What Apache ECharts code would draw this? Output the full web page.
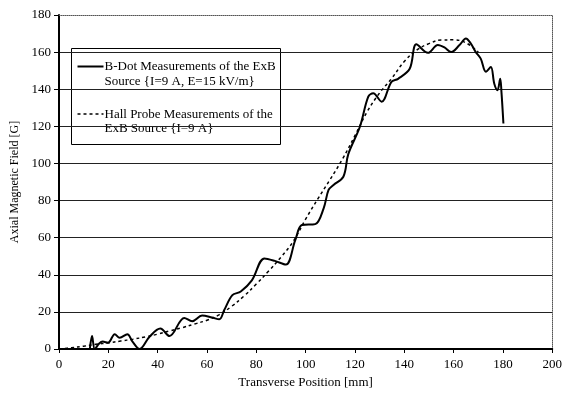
<!DOCTYPE html>
<html>
<head>
<meta charset="utf-8">
<script src="https://cdn.jsdelivr.net/npm/echarts@6/dist/echarts.min.js"></script>
<style>
  html, body { margin: 0; padding: 0; background: #fff; }
  #chart { width: 565px; height: 398px; }
</style>
</head>
<body>
<div id="chart"></div>
<script>
// B-Dot measurements [mm, G]
var bdotPos = [12.5, 13.4, 14.5, 16.3, 17.7, 19.9, 22.6, 24.6, 27.7, 29.8, 32.7, 36.7, 41.1, 44.8, 50.8, 54, 58, 62, 65, 67, 70.3, 73.7, 78.2, 83.3, 87.5, 92, 95.8, 98.5, 103.9, 107.3, 109.3, 111.3, 115.3, 117.3, 122, 125.4, 127.4, 130.8, 134.8, 137.5, 142.2, 144.9, 149.6, 153.6, 156.3, 159, 162.4, 165, 167, 169, 171, 173.1, 175.1, 176.5, 177.8, 178.9, 179.4, 180.2];
var bdotField = [0, 7, 0, 3, 4, 3.4, 8, 6, 8, 4, 0, 6.6, 11, 7, 16.7, 15, 18, 17, 16, 21, 29, 31, 37, 48.8, 47.5, 45.5, 58.7, 66.8, 67.3, 75.8, 85.7, 88.4, 92.8, 105, 119.8, 136, 137.8, 133.3, 144, 145.6, 151, 164.2, 159.6, 163.8, 162.5, 160, 163.8, 167.4, 164.6, 160, 156.5, 149.4, 152, 143, 139.5, 145.6, 138.6, 121.5];

// Hall probe measurements [mm, G]
var hallPos = [0, 5, 10, 15, 20, 25, 30, 35, 40, 45, 50, 55, 60, 65, 70, 75, 80, 85, 90, 95, 100, 105, 110, 115, 120, 125, 130, 135, 140, 145, 150, 155, 160, 165, 170];
var hallField = [0, 0.7, 1.5, 2.5, 3.3, 4.3, 5.3, 6.5, 8, 9.8, 11.5, 13.5, 15.5, 18.5, 23, 28.5, 35, 42, 49.5, 58, 70, 81, 91.5, 102.5, 115, 128, 138, 146, 155, 161, 164.6, 166.5, 166.6, 165, 160];

var legendLines = [
  'B-Dot Measurements of the ExB\nSource {I=9 A, E=15 kV/m}',
  'Hall Probe Measurements of the\nExB Source {I=9 A}'
];

function pairs(xs, ys) {
  return xs.map(function (x, i) { return [x, ys[i]]; });
}

var font = 'Liberation Serif';
var chart = echarts.init(document.getElementById('chart'));

chart.setOption({
  animation: false,
  backgroundColor: '#fff',
  textStyle: { fontFamily: font, color: '#000' },
  grid: { left: 59, right: 10, top: 15, bottom: 49 },
  xAxis: [{
    type: 'value',
    min: 0, max: 200, interval: 20,
    name: 'Transverse Position [mm]',
    nameLocation: 'middle',
    nameGap: 27,
    nameTextStyle: { fontFamily: font, fontSize: 13, color: '#000' },
    axisLine: { lineStyle: { color: '#000', width: 2 } },
    axisTick: { length: 4, lineStyle: { color: '#000' } },
    axisLabel: { fontFamily: font, fontSize: 13, color: '#000', margin: 9 },
    splitLine: { show: false }
  }, {
    type: 'value', position: 'top',
    min: 0, max: 200,
    axisLine: { show: true, onZero: false, lineStyle: { color: '#555', type: [1, 1] } },
    axisTick: { show: false }, axisLabel: { show: false }, splitLine: { show: false }
  }],
  yAxis: [{
    type: 'value',
    min: 0, max: 180, interval: 20,
    name: 'Axial Magnetic Field [G]',
    nameLocation: 'middle',
    nameGap: 34,
    nameTextStyle: { fontFamily: font, fontSize: 12, color: '#000' },
    axisLine: { show: true, lineStyle: { color: '#000', width: 2 } },
    axisTick: { show: true, length: 5, lineStyle: { color: '#000' } },
    axisLabel: { fontFamily: font, fontSize: 13, color: '#000', margin: 8 },
    splitLine: { show: true, showMinLine: false, showMaxLine: false, lineStyle: { color: '#222', width: 1 } }
  }, {
    type: 'value', position: 'right',
    min: 0, max: 180,
    axisLine: { show: true, onZero: false, lineStyle: { color: '#555', type: [1, 1] } },
    axisTick: { show: false }, axisLabel: { show: false }, splitLine: { show: false }
  }],
  series: [{
    name: 'B-Dot',
    type: 'line',
    data: pairs(bdotPos, bdotField),
    smooth: 0.35,
    symbol: 'none',
    lineStyle: { color: '#000', width: 2 },
    z: 3
  }, {
    name: 'Hall Probe',
    type: 'line',
    data: pairs(hallPos, hallField),
    smooth: 0.4,
    symbol: 'none',
    lineStyle: { color: '#000', width: 1.5, type: [3, 3] },
    z: 2
  }],
  graphic: [{
    type: 'group',
    left: 71, top: 48,
    z: 10,
    children: [
      { type: 'rect', shape: { x: 0, y: 0, width: 209, height: 96 },
        style: { fill: '#fff', stroke: '#000', lineWidth: 1 } },
      { type: 'line', shape: { x1: 6, y1: 18, x2: 32, y2: 18 },
        style: { stroke: '#000', lineWidth: 2 } },
      { type: 'text', x: 33, y: 11,
        style: { text: legendLines[0], font: '13px "Liberation Serif"', fill: '#000', lineHeight: 14.5 } },
      { type: 'line', shape: { x1: 6, y1: 65.5, x2: 32, y2: 65.5 },
        style: { stroke: '#000', lineWidth: 1.5, lineDash: [3, 3] } },
      { type: 'text', x: 33, y: 58.5,
        style: { text: legendLines[1], font: '13px "Liberation Serif"', fill: '#000', lineHeight: 14.5 } }
    ]
  }]
});
</script>
</body>
</html>
